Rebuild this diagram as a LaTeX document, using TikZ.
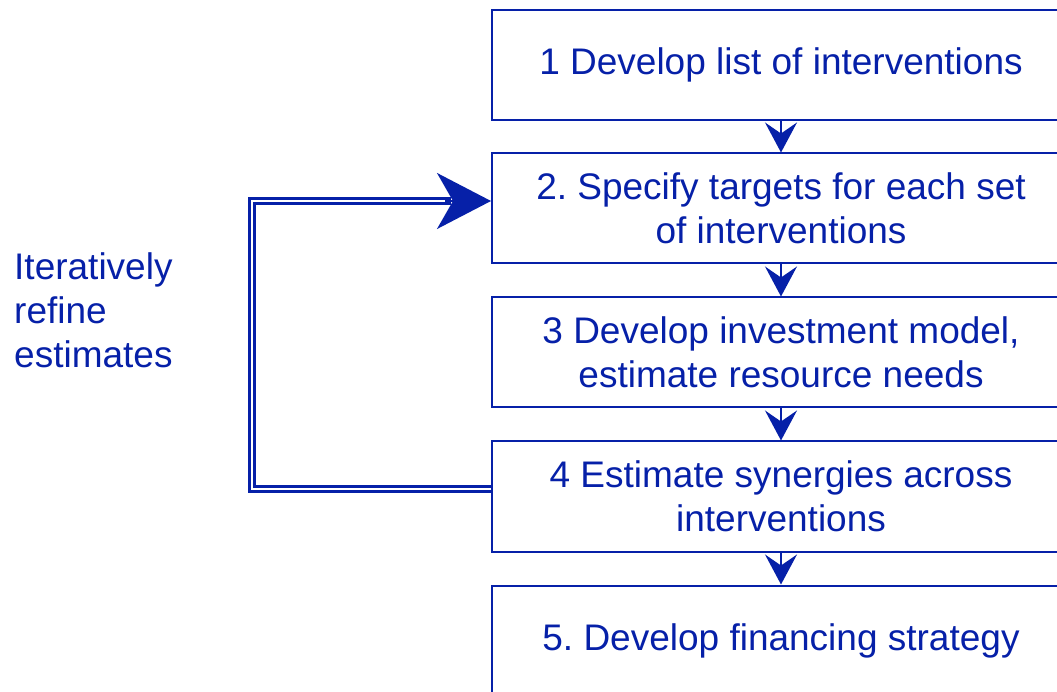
\documentclass[tikz,border=0pt]{standalone}
\usepackage{fontspec}
\setmainfont{Liberation Sans}
\frenchspacing
\usetikzlibrary{arrows.meta}
\definecolor{dblue}{RGB}{6,32,168}
\begin{document}
\begin{tikzpicture}[x=1pt,y=1pt,
  box/.style={draw=dblue,line width=2pt,minimum width=578pt,minimum height=110pt,
    text=dblue,align=center,font=\fontsize{37}{44}\selectfont,inner sep=0pt},
  flow/.style={draw=dblue,line width=1.5pt,-{Stealth[length=30pt,width=32pt,inset=11pt]}},
  loopline/.style={draw=dblue,line width=2.7pt,double=white,double distance=2.6pt},
  bigtip/.style={draw=dblue,line width=2pt,-{Stealth[length=54pt,width=56pt,inset=16pt]}},
  lbl/.style={text=dblue,align=left,font=\fontsize{37}{44}\selectfont,inner sep=0pt}]
\useasboundingbox (0,0) rectangle (1057,691);
\clip (0,0) rectangle (1057,691);
\node[box] (b1) at (781,626) {1 Develop list of interventions};
\node[box] (b2) at (781,482.5) {2. Specify targets for each set\\of interventions};
\node[box] (b3) at (781,338.5) {3 Develop investment model,\\estimate resource needs};
\node[box] (b4) at (781,194.5) {4 Estimate synergies across\\interventions};
\node[box] (b5) at (781,50.5) {5. Develop financing strategy};
\draw[flow] (b1.south) -- (b2.north);
\draw[flow] (b2.south) -- (b3.north);
\draw[flow] (b3.south) -- (b4.north);
\draw[flow] (b4.south) -- (b5.north);
\coordinate (s) at ([yshift=7.5pt]b4.west);
\coordinate (e) at ([yshift=7.5pt]b2.west);
\coordinate (k) at (252,0);
\draw[loopline,shorten >=40pt] (s) -- (s -| k) -- (e -| k) -- (e);
\draw[bigtip] ([xshift=-46pt]e) -- (e);
\node[lbl,anchor=west] (lab) at (14,381) {Iteratively\\refine\\estimates};
\end{tikzpicture}
\end{document}
